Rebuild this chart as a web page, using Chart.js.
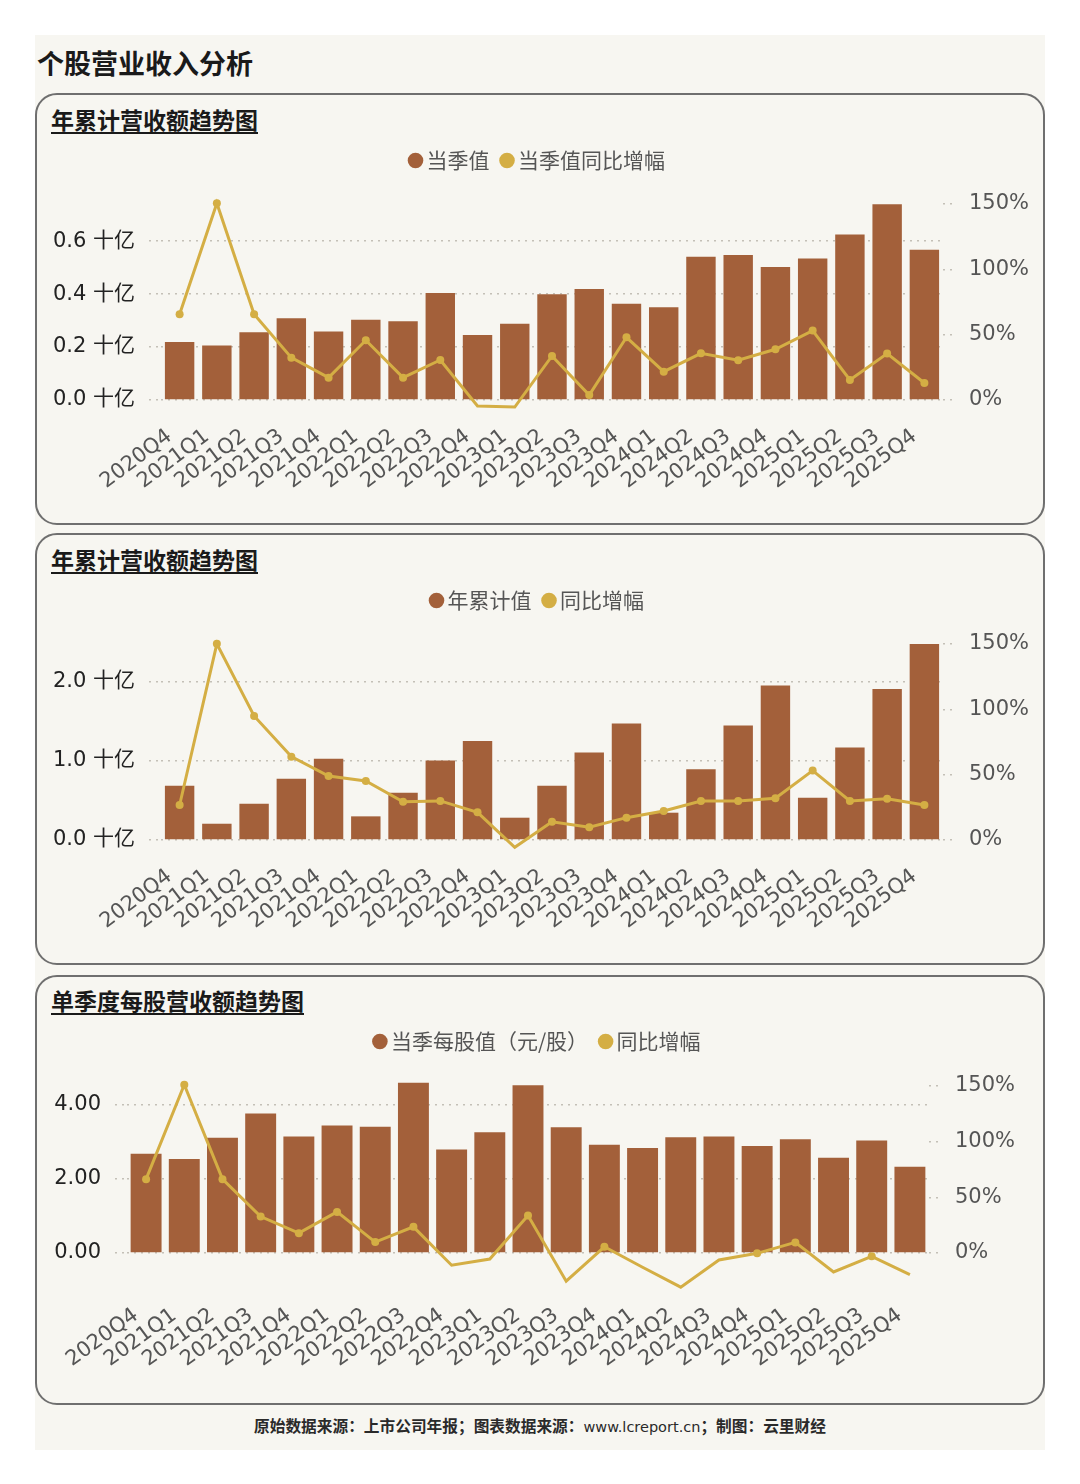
<!DOCTYPE html>
<html>
<head>
<meta charset="utf-8">
<script src="https://cdn.jsdelivr.net/npm/chart.js@4.4.1/dist/chart.umd.min.js"></script>
<style>
  body { margin: 0; width: 1080px; height: 1484px; background: #fff; position: relative; overflow: hidden; }
  #sheet { position: absolute; left: 35px; top: 35px; width: 1010px; height: 1415px; background: #f7f6f1; }
  h1 { position: absolute; left: 37px; top: 44px; margin: 0; font: bold 27px "Noto Sans CJK SC", sans-serif; line-height: 38px; color: #1a1a1a; }
  .panel { position: absolute; left: 35px; width: 1010px; box-sizing: border-box; border: 2px solid #6f6f6f; border-radius: 22px; }
  .ptitle { position: absolute; left: 51px; margin: 0; font: bold 23px "Noto Sans CJK SC", sans-serif; line-height: 30px; color: #1a1a1a; text-decoration: underline; text-underline-offset: 3px; }
  canvas { position: absolute; left: 35px; }
  .foot { position: absolute; left: 0; width: 1080px; top: 1416px; text-align: center; font: bold 15.7px "Noto Sans CJK SC", sans-serif; line-height: 20px; color: #2a2a2a; }
  .foot span { font-weight: normal; font-family: "DejaVu Sans", sans-serif; font-size: 14.5px; }
</style>
</head>
<body>
<div id="sheet"></div>
<h1>个股营业收入分析</h1>

<div class="panel" style="top:93px;height:432px"></div>
<div class="ptitle" style="top:104px">年累计营收额趋势图</div>
<canvas id="chart1" width="1010" height="432" style="top:93px"></canvas>

<div class="panel" style="top:533px;height:432px"></div>
<div class="ptitle" style="top:544px">年累计营收额趋势图</div>
<canvas id="chart2" width="1010" height="432" style="top:533px"></canvas>

<div class="panel" style="top:975px;height:430px"></div>
<div class="ptitle" style="top:985px">单季度每股营收额趋势图</div>
<canvas id="chart3" width="1010" height="430" style="top:975px"></canvas>

<div class="foot">原始数据来源：上市公司年报；图表数据来源：<span>www.lcreport.cn</span>；制图：云里财经</div>

<script>
// data
const quarters = ['2020Q4', '2021Q1', '2021Q2', '2021Q3', '2021Q4', '2022Q1', '2022Q2', '2022Q3', '2022Q4',
  '2023Q1', '2023Q2', '2023Q3', '2023Q4', '2024Q1', '2024Q2', '2024Q3', '2024Q4', '2025Q1', '2025Q2', '2025Q3', '2025Q4'];

// chart 1: quarter value (十亿) and yoy %
const quarterRevenue = [0.219, 0.206, 0.256, 0.309, 0.259, 0.303, 0.297, 0.404, 0.245, 0.288, 0.399,
  0.419, 0.363, 0.350, 0.541, 0.547, 0.502, 0.534, 0.625, 0.739, 0.567];
const quarterRevenueYoY = [65.6, 150.6, 65.6, 32.4, 17.1, 45.7, 17.1, 30.6, -4.6, -5.4, 33.7,
  3.8, 48.0, 21.7, 35.7, 30.4, 38.8, 53.1, 15.3, 35.5, 13.0];

// chart 2: year-to-date value (十亿) and yoy %
const cumRevenue = [0.683, 0.205, 0.457, 0.771, 1.023, 0.298, 0.595, 1.002, 1.249, 0.281, 0.683,
  1.103, 1.468, 0.344, 0.893, 1.443, 1.946, 0.532, 1.166, 1.903, 2.469];
const cumRevenueYoY = [26.8, 150.1, 94.9, 63.8, 49.0, 45.2, 29.3, 29.9, 21.2, -5.6, 14.0,
  9.7, 17.1, 22.2, 29.9, 29.9, 31.9, 53.1, 29.9, 31.6, 26.8];

// chart 3: per share value (元/股) and yoy %
const perShareRevenue = [2.674, 2.531, 3.104, 3.758, 3.140, 3.436, 3.399, 4.590, 2.792, 3.256, 4.518,
  3.391, 2.916, 2.827, 3.122, 3.140, 2.880, 3.068, 2.567, 3.032, 2.326];
const perShareYoY = [66.3, 151.2, 66.3, 32.7, 17.8, 36.9, 9.8, 23.5, -11.0, -5.4, 33.6,
  -25.3, 5.6, -12.8, -30.7, -6.3, -0.3, 9.5, -17.0, -3.0, -19.4];

// axis ticks
const billionTicks1 = [0, 0.2, 0.4, 0.6];
const billionTicks2 = [0, 1, 2];
const perShareTicks = [0, 2, 4];
const pctTicks = [0, 50, 100, 150];

const barColor = '#a3603a';
const lineColor = '#d4ae44';
const gridColor = '#c4c0b7';
const cjk = '"DejaVu Sans", "Noto Sans CJK SC", sans-serif';

// push the plot down a bit under the legend
const legendGap = {
  id: 'legendGap',
  beforeInit(chart) {
    const fit = chart.legend.fit;
    chart.legend.fit = function () {
      fit.call(this);
      this.height += chart.options.plugins.legendGap.gap;
    };
  }
};

function makeChart(id, p) {
  const ctx = document.getElementById(id).getContext('2d');
  return new Chart(ctx, {
    type: 'bar',
    data: {
      labels: quarters,
      datasets: [
        {
          type: 'bar',
          label: p.barLabel,
          data: p.bars,
          yAxisID: 'y',
          backgroundColor: barColor,
          borderWidth: 0,
          barPercentage: p.barPct,
          categoryPercentage: 1,
          clip: false,
          order: 1
        },
        {
          type: 'line',
          label: p.lineLabel,
          data: p.line,
          yAxisID: 'y1',
          borderColor: lineColor,
          backgroundColor: lineColor,
          borderWidth: 3,
          pointRadius: 4,
          pointBackgroundColor: lineColor,
          pointBorderWidth: 0,
          tension: 0,
          clip: false,
          order: 0
        }
      ]
    },
    options: {
      responsive: false,
      animation: false,
      layout: { padding: { top: p.padTop, left: 0, right: 0, bottom: 0 } },
      plugins: {
        legendGap: { gap: p.gap },
        tooltip: { enabled: false },
        legend: {
          position: 'top',
          labels: {
            usePointStyle: true,
            pointStyle: 'circle',
            boxWidth: 1,
            boxHeight: 11,
            padding: 17,
            color: '#555',
            font: { family: '"Noto Sans CJK SC", sans-serif', size: 21 },
            sort: (a, b) => a.datasetIndex - b.datasetIndex,
            generateLabels: (chart) => Chart.defaults.plugins.legend.labels.generateLabels(chart)
              .map((l) => Object.assign(l, { lineWidth: 0 }))
          }
        }
      },
      scales: {
        x: {
          grid: { display: false, drawTicks: false },
          border: { display: false },
          ticks: {
            autoSkip: false,
            minRotation: p.rot,
            maxRotation: p.rot,
            padding: p.xPad,
            labelOffset: -10,
            color: '#555',
            font: { family: cjk, size: 21 }
          },
          afterFit: (s) => {
            s.height = p.xHeight;
            // labels may hang outside, keep plot width fixed
            s.paddingLeft = 0;
            s.paddingRight = 0;
          }
        },
        y: {
          position: 'left',
          min: 0,
          max: p.leftMax,
          border: { display: false, dash: [2, 5] },
          grid: {
            color: gridColor,
            lineWidth: 1.5,
            tickBorderDash: [2, 5],
            tickLength: 12,
            tickColor: gridColor
          },
          ticks: {
            padding: 14,
            color: '#222',
            font: { family: cjk, size: 21 },
            callback: p.leftFmt
          },
          afterBuildTicks: (s) => { s.ticks = p.leftTicks.map((v) => ({ value: v })); },
          afterFit: (s) => { s.width = p.leftWidth; }
        },
        y1: {
          position: 'right',
          min: 0,
          max: 150,
          border: { display: false },
          grid: {
            drawOnChartArea: false,
            color: gridColor,
            lineWidth: 1.5,
            tickBorderDash: [2, 5],
            tickLength: 12,
            tickColor: gridColor
          },
          ticks: {
            padding: 14,
            color: '#555',
            font: { family: cjk, size: 21 },
            callback: (v) => v + '%'
          },
          afterBuildTicks: (s) => { s.ticks = pctTicks.map((v) => ({ value: v })); },
          afterFit: (s) => { s.width = p.rightWidth; }
        }
      }
    },
    plugins: [legendGap]
  });
}

makeChart('chart1', {
  barLabel: '当季值', lineLabel: '当季值同比增幅',
  bars: quarterRevenue, line: quarterRevenueYoY,
  leftMax: 0.74, leftTicks: billionTicks1,
  leftFmt: (v) => v.toFixed(1) + ' 十亿',
  padTop: 40, gap: 23, leftWidth: 126, rightWidth: 102, xHeight: 125,
  rot: 37, xPad: 24, barPct: 0.79
});

makeChart('chart2', {
  barLabel: '年累计值', lineLabel: '同比增幅',
  bars: cumRevenue, line: cumRevenueYoY,
  leftMax: 2.47, leftTicks: billionTicks2,
  leftFmt: (v) => v.toFixed(1) + ' 十亿',
  padTop: 40, gap: 23, leftWidth: 126, rightWidth: 102, xHeight: 125,
  rot: 37, xPad: 24, barPct: 0.79
});

makeChart('chart3', {
  barLabel: '当季每股值（元/股）', lineLabel: '同比增幅',
  bars: perShareRevenue, line: perShareYoY,
  leftMax: 4.5, leftTicks: perShareTicks,
  leftFmt: (v) => v.toFixed(2),
  padTop: 39, gap: 24, leftWidth: 92, rightWidth: 116, xHeight: 152,
  rot: 36, xPad: 50, barPct: 0.81
});
</script>
</body>
</html>
